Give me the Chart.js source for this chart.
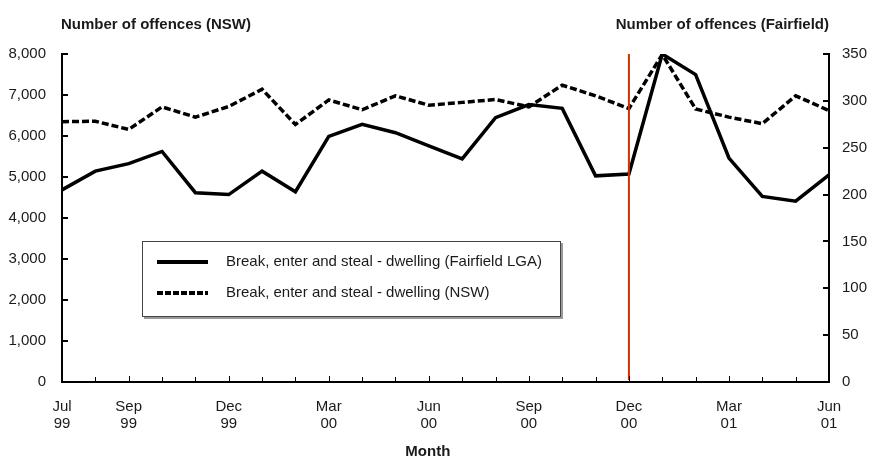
<!DOCTYPE html>
<html>
<head>
<meta charset="utf-8">
<script src="https://cdn.jsdelivr.net/npm/chart.js@4"></script>
<style>
  body { margin: 0; background: #fff; }
  canvas { display: block; }
</style>
</head>
<body>
<canvas id="offencesChart" width="874" height="461"></canvas>
<script>
// months Jul 99 - Jun 01
const months = ['Jul 99', 'Aug 99', 'Sep 99', 'Oct 99', 'Nov 99', 'Dec 99',
  'Jan 00', 'Feb 00', 'Mar 00', 'Apr 00', 'May 00', 'Jun 00',
  'Jul 00', 'Aug 00', 'Sep 00', 'Oct 00', 'Nov 00', 'Dec 00',
  'Jan 01', 'Feb 01', 'Mar 01', 'Apr 01', 'May 01', 'Jun 01'];
const shownMonths = ['Jul 99', 'Sep 99', 'Dec 99', 'Mar 00', 'Jun 00', 'Sep 00', 'Dec 00', 'Mar 01', 'Jun 01'];
const markerMonth = 'Dec 00';

// Fairfield LGA (right axis)
const fairfieldValues = [205, 225, 233, 246, 202, 200, 225, 203, 262, 275, 266, 252,
  238, 282, 296, 292, 220, 222, 350, 328, 239, 198, 193, 221];
// NSW (left axis)
const nswValues = [6350, 6360, 6160, 6710, 6460, 6720, 7140, 6280, 6880, 6640, 6980, 6750,
  6820, 6890, 6710, 7240, 6980, 6670, 7990, 6660, 6460, 6300, 6980, 6620];

const seriesNames = ['Break, enter and steal - dwelling (Fairfield LGA)', 'Break, enter and steal - dwelling (NSW)'];
const leftTitle = 'Number of offences (NSW)';
const rightTitle = 'Number of offences (Fairfield)';
const xTitle = 'Month';

const FONT = "'Liberation Sans', Arial, sans-serif";
const TEXT = '#1a1a1a';

// inward tick marks, marker line, titles and the legend box
const decorPlugin = {
  id: 'decor',
  afterDatasetsDraw(chart) {
    const { ctx, chartArea, scales } = chart;
    const x = scales.x, yL = scales.yNSW, yR = scales.yFair;
    ctx.save();

    // marker line
    const mx = x.getPixelForValue(months.indexOf(markerMonth));
    ctx.strokeStyle = '#cc3300';
    ctx.lineWidth = 2;
    ctx.beginPath();
    ctx.moveTo(mx, chartArea.top);
    ctx.lineTo(mx, chartArea.bottom - 2);
    ctx.stroke();

    // ticks
    ctx.strokeStyle = '#000';
    ctx.lineWidth = 1;
    months.forEach((m, i) => {
      const px = Math.round(x.getPixelForValue(i)) + 0.5;
      const len = shownMonths.includes(m) ? 6 : 5;
      ctx.beginPath();
      ctx.moveTo(px, chartArea.bottom);
      ctx.lineTo(px, chartArea.bottom - len);
      ctx.stroke();
    });
    ctx.lineWidth = 2;
    yL.ticks.forEach(t => {
      const py = Math.round(yL.getPixelForValue(t.value));
      ctx.beginPath();
      ctx.moveTo(chartArea.left, py);
      ctx.lineTo(chartArea.left + 6, py);
      ctx.stroke();
    });
    yR.ticks.forEach(t => {
      const py = Math.round(yR.getPixelForValue(t.value));
      ctx.beginPath();
      ctx.moveTo(chartArea.right, py);
      ctx.lineTo(chartArea.right - 6, py);
      ctx.stroke();
    });

    // axis titles
    ctx.fillStyle = TEXT;
    ctx.font = 'bold 15px ' + FONT;
    ctx.textBaseline = 'middle';
    ctx.textAlign = 'left';
    ctx.fillText(leftTitle, chartArea.left - 1, 25);
    ctx.textAlign = 'right';
    ctx.fillText(rightTitle, chartArea.right, 25);
    ctx.textAlign = 'center';
    ctx.fillText(xTitle, chartArea.left + (chartArea.right - chartArea.left) * 0.477, 452);

    // legend box
    const bx = chartArea.left + 80, by = chartArea.top + 187, bw = 419, bh = 76;
    ctx.fillStyle = '#999';
    ctx.fillRect(bx + 2, by + 2, bw, bh);
    ctx.fillStyle = '#fff';
    ctx.fillRect(bx, by, bw, bh);
    ctx.strokeStyle = '#444';
    ctx.lineWidth = 1;
    ctx.strokeRect(bx + 0.5, by + 0.5, bw - 1, bh - 1);

    chart.data.datasets.forEach((ds, i) => {
      const ly = by + 21 + i * 31;
      ctx.strokeStyle = ds.borderColor;
      ctx.lineWidth = 4;
      ctx.setLineDash(ds.borderDash ? [6, 2] : []);
      ctx.beginPath();
      ctx.moveTo(bx + 15, ly);
      ctx.lineTo(bx + 66, ly);
      ctx.stroke();
      ctx.setLineDash([]);
      ctx.fillStyle = TEXT;
      ctx.font = '15px ' + FONT;
      ctx.textAlign = 'left';
      ctx.textBaseline = 'middle';
      ctx.fillText(ds.label, bx + 84, ly);
    });
    ctx.restore();
  }
};

new Chart(document.getElementById('offencesChart'), {
  type: 'line',
  data: {
    labels: months,
    datasets: [
      {
        label: seriesNames[0],
        data: fairfieldValues,
        yAxisID: 'yFair',
        borderColor: '#000',
        borderWidth: 3.5,
        pointRadius: 0,
        tension: 0,
        fill: false
      },
      {
        label: seriesNames[1],
        data: nswValues,
        yAxisID: 'yNSW',
        borderColor: '#000',
        borderWidth: 3.5,
        borderDash: [7, 3],
        pointRadius: 0,
        tension: 0,
        fill: false
      }
    ]
  },
  options: {
    responsive: false,
    animation: false,
    layout: { padding: { top: 54, left: 0, right: 0, bottom: 0 } },
    plugins: {
      legend: { display: false },
      tooltip: { enabled: false }
    },
    scales: {
      x: {
        type: 'category',
        offset: false,
        afterFit: s => { s.height = 79; },
        grid: { display: false, drawTicks: false },
        border: { display: true, color: '#000', width: 2 },
        ticks: {
          autoSkip: false,
          maxRotation: 0,
          padding: 16,
          color: TEXT,
          font: { family: FONT, size: 15, lineHeight: 1.13 },
          callback: (v, i) => shownMonths.includes(months[i]) ? months[i].split(' ') : ''
        }
      },
      yNSW: {
        position: 'left',
        min: 0,
        max: 8000,
        afterFit: s => { s.width = 62; },
        grid: { display: false, drawTicks: false },
        border: { display: true, color: '#000', width: 2 },
        ticks: {
          stepSize: 1000,
          padding: 16,
          color: TEXT,
          font: { family: FONT, size: 15 },
          callback: v => v.toLocaleString('en-US')
        }
      },
      yFair: {
        position: 'right',
        min: 0,
        max: 350,
        afterFit: s => { s.width = 45; },
        grid: { display: false, drawTicks: false },
        border: { display: true, color: '#000', width: 2 },
        ticks: {
          stepSize: 50,
          padding: 13,
          color: TEXT,
          font: { family: FONT, size: 15 }
        }
      }
    }
  },
  plugins: [decorPlugin]
});
</script>
</body>
</html>
